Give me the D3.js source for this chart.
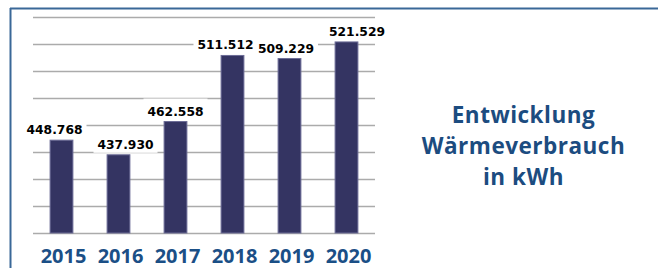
<!DOCTYPE html>
<html>
<head>
<meta charset="utf-8">
<script src="https://cdn.jsdelivr.net/npm/d3@7"></script>
<style>
html,body{margin:0;padding:0;background:#fff;}
svg{display:block;}
</style>
</head>
<body>
<svg id="chart" width="658" height="268"></svg>
<script>
const years = ["2015", "2016", "2017", "2018", "2019", "2020"];
const values = [448768, 437930, 462558, 511512, 509229, 521529];
const valueLabels = ["448.768", "437.930", "462.558", "511.512", "509.229", "521.529"];
const yTicks = [380000, 400000, 420000, 440000, 460000, 480000, 500000, 520000, 540000];
const titleLines = ["Entwicklung", "Wärmeverbrauch", "in kWh"];

(function () {
const svg = d3.select("#chart");
const W = 658, H = 268;
const pLeft = 33, pRight = 375, pTop = 17, pBottom = 233;

// frame
svg.append("line").attr("x1", 10).attr("x2", W).attr("y1", 8.5).attr("y2", 8.5)
  .attr("stroke", "#3a6898").attr("stroke-width", 2);
svg.append("line").attr("x1", 10.5).attr("x2", 10.5).attr("y1", 8).attr("y2", H)
  .attr("stroke", "#3a6898").attr("stroke-width", 2);

const x = d3.scaleBand().domain(years).range([pLeft, pRight]).paddingInner(0.6).paddingOuter(0.3);
const y = d3.scaleLinear().domain([380000, 540000]).range([pBottom, pTop]);

// gridlines via axis
const grid = svg.append("g")
  .attr("transform", `translate(${pLeft},0)`)
  .call(d3.axisLeft(y).tickValues(yTicks).tickSize(-(pRight - pLeft)).tickFormat(""));
grid.select(".domain").remove();
grid.selectAll(".tick line").attr("stroke", "#ababab").attr("stroke-width", 1.3);

// bars
svg.append("g").selectAll("rect").data(values).join("rect")
  .attr("x", (d, i) => x(years[i]))
  .attr("y", d => y(d))
  .attr("width", x.bandwidth())
  .attr("height", d => pBottom - y(d))
  .attr("fill", "#343462")
  .attr("stroke", "#6c6c96")
  .attr("stroke-width", 1);

// value labels with white background
const lg = svg.append("g");
const labs = values.map((d, i) => {
  const g = lg.append("g");
  const t = g.append("text")
    .attr("x", x(years[i]) + x.bandwidth() / 2).attr("y", y(d) - 6)
    .attr("text-anchor", "middle")
    .attr("font-family", "DejaVu Sans")
    .attr("font-weight", "bold")
    .attr("font-size", 12.3)
    .attr("fill", "#000")
    .text(valueLabels[i]);
  return { g, t, cx: x(years[i]) + x.bandwidth() / 2, bb: t.node().getBBox() };
});
// simple collision avoidance between neighbouring labels
const minGap = 15;
for (let i = 0; i < labs.length - 1; i++) {
  const a = labs[i], b = labs[i + 1];
  const vOverlap = !(a.bb.y + a.bb.height < b.bb.y - 6 || b.bb.y + b.bb.height < a.bb.y - 6);
  const aR = a.cx + a.bb.width / 2, bL = b.cx - b.bb.width / 2;
  if (vOverlap && bL - aR < minGap) {
    const shift = (minGap - (bL - aR)) / 2;
    a.cx -= shift; b.cx += shift;
  }
}
labs.forEach(l => {
  l.t.attr("x", l.cx);
  const bb = l.t.node().getBBox();
  l.g.insert("rect", "text")
    .attr("x", bb.x - 4).attr("y", bb.y - 6)
    .attr("width", bb.width + 8).attr("height", bb.height + 7)
    .attr("fill", "#fff");
});

// x axis labels
const xa = svg.append("g")
  .attr("transform", `translate(2,${pBottom})`)
  .call(d3.axisBottom(x).tickSize(0).tickPadding(0));
xa.select(".domain").remove();
xa.selectAll(".tick text")
  .attr("y", 30)
  .attr("dy", 0)
  .attr("font-family", "Open Sans")
  .attr("font-weight", "bold")
  .attr("font-size", 20)
  .attr("fill", "#1b4f86");

// title
const baselines = [122.5, 153.5, 184.5];
svg.append("g").selectAll("text").data(titleLines).join("text")
  .attr("x", 523.5)
  .attr("y", (d, i) => baselines[i])
  .attr("text-anchor", "middle")
  .attr("font-family", "Open Sans")
  .attr("font-weight", "bold")
  .attr("font-size", 22.5)
  .attr("letter-spacing", 0.5)
  .attr("fill", "#1c4c80")
  .text(d => d);
})();
</script>
</body>
</html>
